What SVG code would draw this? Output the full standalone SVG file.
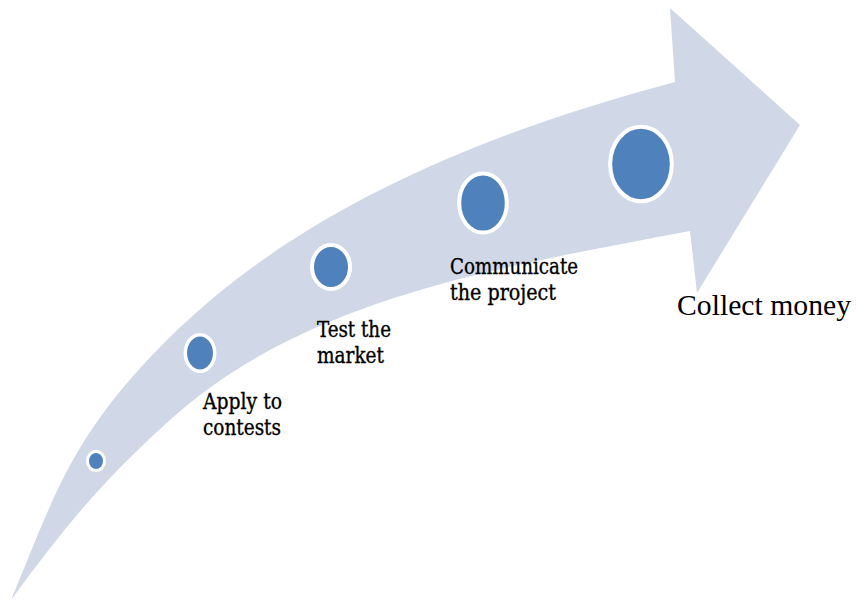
<svg xmlns="http://www.w3.org/2000/svg" width="856" height="600" viewBox="0 0 856 600">
  <style>
    .shaft { fill: #D0D8E8; }
    .stage { fill: #4F81BD; stroke: #FFFFFF; }
    .label { font-family: "DejaVu Serif Condensed", "DejaVu Serif", "Liberation Serif", serif; font-stretch: condensed; font-size: 23px; fill: #000000; stroke: #000000; stroke-width: 0.35px; }
    .goal { font-family: "Liberation Serif", "Times New Roman", serif; font-size: 29px; fill: #000000; }
  </style>
  <rect width="856" height="600" fill="#FFFFFF"/>

  <!-- curved progress arrow -->
  <g id="arrow">
    <path class="shaft" d="M11,600
      C55,495 70,437 167,340
      C301,206 491,131 675,82
      L670,8 L800,125 L697,293 L690,231
      C508,266 307,296 170,420
      C100,483 64,528 11,600 Z"/>
  </g>

  <!-- milestones along the arrow -->
  <g id="stage-start">
    <ellipse class="stage" cx="96" cy="461" rx="8.5" ry="9.5" stroke-width="3"/>
  </g>
  <g id="stage-apply">
    <ellipse class="stage" cx="200" cy="353" rx="14.7" ry="18.3" stroke-width="3.5"/>
    <text class="label"><tspan x="203" y="409" textLength="79" lengthAdjust="spacingAndGlyphs">Apply to</tspan><tspan x="203" y="435" textLength="78" lengthAdjust="spacingAndGlyphs">contests</tspan></text>
  </g>
  <g id="stage-test">
    <ellipse class="stage" cx="331" cy="267" rx="19" ry="22" stroke-width="4"/>
    <text class="label"><tspan x="317" y="337" textLength="74" lengthAdjust="spacingAndGlyphs">Test the</tspan><tspan x="317" y="363" textLength="67" lengthAdjust="spacingAndGlyphs">market</tspan></text>
  </g>
  <g id="stage-communicate">
    <ellipse class="stage" cx="483" cy="203" rx="23.8" ry="29.6" stroke-width="4"/>
    <text class="label"><tspan x="450" y="274" textLength="128" lengthAdjust="spacingAndGlyphs">Communicate</tspan><tspan x="450" y="300" textLength="106" lengthAdjust="spacingAndGlyphs">the  project</tspan></text>
  </g>
  <g id="stage-collect">
    <ellipse class="stage" cx="641" cy="164" rx="30.8" ry="37.3" stroke-width="4"/>
    <text class="goal" x="677" y="315" textLength="174" lengthAdjust="spacingAndGlyphs">Collect money</text>
  </g>

  <g id="connectors"/>
</svg>
